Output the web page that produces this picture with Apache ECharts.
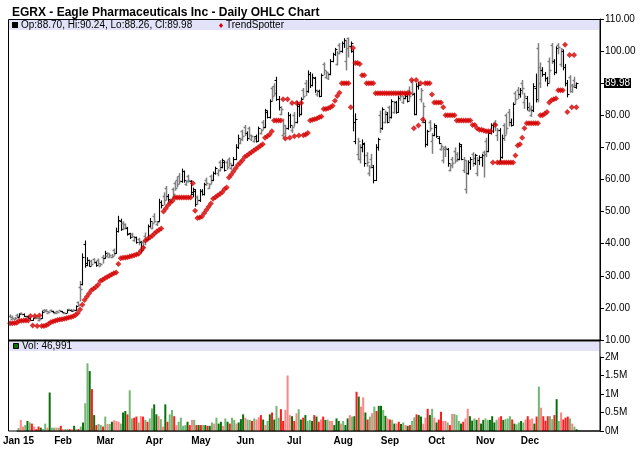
<!DOCTYPE html>
<html><head><meta charset="utf-8">
<script src="https://cdn.jsdelivr.net/npm/echarts@6/dist/echarts.min.js"></script>
<style>html,body{margin:0;padding:0;background:#fff}#c{width:640px;height:468px}</style>
</head><body><div id="c"></div>
<script>
const chartTitle = 'EGRX - Eagle Pharmaceuticals Inc - Daily OHLC Chart';
const monthLabels = ['Jan 15','Feb','Mar','Apr','May','Jun','Jul','Aug','Sep','Oct','Nov','Dec'];
const monthDays = [20,19,22,21,20,22,22,21,21,22,20,22];
const priceTicks = [10,20,30,40,50,60,70,80,90,100,110];
const volumeTicksK = [0,500,1000,1500,2000];

const openP = [17.6,16.6,16.5,17.8,17.3,18.5,18.1,17.0,17.4,16.9,16.2,17.1,17.3,16.2,16.7,19.3,19.4,18.5,19.3,19.0,
18.3,19.0,19.2,18.9,18.3,18.5,19.6,19.4,19.5,19.2,21.8,26.5,27.5,40.0,33.5,34.8,34.5,35.2,34.2,35.0,
33.2,36.0,35.5,36.3,36.0,35.8,38.0,37.0,44.0,47.0,46.5,46.0,45.0,43.2,43.0,41.0,42.0,41.5,40.5,40.5,
42.5,41.5,45.5,45.0,48.5,46.0,47.0,53.0,55.0,57.5,55.0,53.0,57.0,59.0,60.0,61.0,59.5,62.5,58.5,61.0,
59.5,55.5,56.5,54.5,53.5,56.5,55.5,60.0,57.5,61.0,60.0,62.0,62.0,65.5,64.0,65.5,65.5,66.5,63.5,64.5,
66.5,70.0,71.5,75.0,76.5,74.5,76.0,72.5,72.0,73.5,72.0,74.5,78.0,76.5,81.0,79.5,88.5,89.0,91.0,85.0,
80.5,74.0,74.5,76.0,80.0,75.5,80.0,78.0,83.0,80.5,88.0,90.0,87.5,93.0,89.5,91.5,86.5,87.5,86.0,96.0,
92.0,91.5,93.0,97.0,99.0,96.0,102.0,100.0,102.5,97.0,104.0,101.5,100.0,72.0,68.0,66.5,70.0,71.0,67.5,62.0,
66.5,64.0,60.0,70.0,80.0,76.0,78.0,80.5,82.5,79.5,81.0,84.0,81.0,87.0,84.0,85.5,86.0,88.0,90.5,86.5,
80.5,89.0,85.0,78.0,78.0,71.0,78.0,72.0,74.0,76.5,73.0,69.5,66.0,70.0,69.5,63.0,66.5,69.0,68.0,66.5,
70.5,63.0,57.0,62.0,65.5,68.0,65.0,62.0,66.0,67.0,68.5,72.0,69.0,74.5,77.0,78.0,74.0,75.5,67.0,77.0,
80.0,81.0,78.0,77.0,87.0,88.0,86.5,90.0,84.0,85.5,81.5,80.0,81.5,88.5,101.0,90.0,94.0,93.0,91.5,97.0,
102.0,97.0,93.5,102.0,96.0,100.0,95.0,90.0,92.0,87.5,91.0,88.70];
const highP = [18.0,17.6,17.2,18.2,18.4,18.6,18.3,17.6,17.6,17.0,16.9,17.2,17.5,16.9,19.2,19.6,19.6,19.0,19.5,19.1,
18.7,19.1,19.3,19.0,18.6,19.6,19.7,19.5,19.6,20.8,22.0,28.4,37.0,41.0,35.8,35.0,35.0,35.5,34.5,35.4,
34.0,36.5,37.8,37.3,37.0,36.8,38.5,45.0,48.7,47.8,47.0,46.3,45.2,43.4,43.4,42.3,42.2,41.8,40.8,41.0,
43.5,46.0,48.0,46.8,49.5,47.0,54.0,53.5,56.0,58.0,55.5,54.0,57.5,59.5,61.0,62.0,63.4,62.8,59.8,61.5,
59.8,57.5,57.0,55.0,57.0,57.0,59.0,60.6,58.8,61.5,62.5,64.0,63.2,66.0,66.5,65.8,66.0,66.9,64.8,67.0,
71.0,74.0,73.0,75.5,77.0,75.0,76.5,74.0,73.5,74.0,76.5,75.8,78.5,82.0,81.5,85.0,89.0,90.0,92.0,86.0,
82.8,79.0,77.0,81.0,80.5,77.0,81.0,84.5,83.5,85.6,88.5,91.0,94.0,93.5,93.0,92.0,88.0,88.0,93.0,96.5,
93.8,93.2,97.5,99.5,101.0,100.0,102.5,103.0,104.0,103.5,104.2,103.0,100.5,80.6,73.0,71.0,72.5,71.5,68.5,64.5,
68.0,64.5,71.0,73.0,81.5,82.5,81.5,81.0,83.0,85.0,84.5,84.5,86.0,87.5,86.0,87.0,86.5,89.0,91.0,87.0,
90.0,90.5,88.5,84.0,78.5,75.5,78.5,74.5,77.5,77.0,73.5,71.0,70.0,70.5,69.8,64.8,67.0,70.0,68.5,71.5,
71.0,67.0,66.0,66.0,67.0,68.5,68.0,67.0,67.5,68.0,69.0,73.0,75.0,77.5,77.5,78.5,76.0,76.0,74.0,77.5,
80.6,82.0,79.0,84.0,87.5,88.8,88.5,91.0,87.0,86.0,84.0,83.0,90.0,93.0,102.5,96.5,95.0,93.5,92.0,98.0,
102.5,97.5,101.5,102.5,101.0,100.5,96.0,91.0,92.5,89.8,92.0,90.24];
const lowP = [16.8,16.4,16.2,17.0,17.1,17.8,17.2,16.9,16.8,16.1,16.0,16.5,16.6,15.8,16.6,18.5,18.7,18.3,18.7,18.4,
18.2,18.5,18.7,18.5,18.2,18.4,19.2,18.9,18.9,19.1,20.5,22.0,27.0,32.5,33.0,32.8,33.0,33.8,32.8,33.2,
33.0,33.8,35.3,36.0,35.6,35.5,36.2,36.8,43.5,44.0,44.2,44.5,42.5,41.5,41.8,40.6,40.0,39.5,37.0,37.8,
39.5,41.2,45.0,44.5,46.5,45.5,46.8,51.0,52.0,53.5,53.0,52.5,54.0,56.5,57.5,58.5,59.0,59.0,58.0,59.0,
55.0,54.5,51.5,52.0,53.0,55.0,55.0,58.0,57.0,58.5,59.5,61.5,61.0,62.5,63.5,62.5,63.0,64.0,63.0,64.2,
66.0,69.5,71.0,72.0,73.5,72.0,73.0,72.0,71.5,71.5,71.8,74.0,75.5,76.0,79.0,79.0,84.5,86.0,84.5,81.5,
80.0,72.8,73.5,75.5,76.0,74.5,76.5,77.5,79.5,80.0,85.0,86.0,87.0,88.5,89.0,87.0,85.8,85.6,85.8,92.5,
91.5,91.0,92.5,96.5,98.5,95.5,99.0,99.5,101.0,94.0,98.0,99.5,75.0,71.0,66.0,65.0,68.5,64.0,64.0,61.0,
63.5,58.8,59.5,69.0,74.5,75.5,77.5,77.5,78.0,79.0,80.5,80.5,80.8,84.5,83.5,85.0,84.0,84.5,86.0,80.0,
80.0,88.0,84.0,77.5,70.0,70.5,75.0,68.0,73.5,73.0,71.0,69.0,65.0,67.0,64.0,62.5,63.5,65.0,65.5,66.0,
66.0,62.0,55.6,61.5,63.0,64.0,64.5,61.0,64.5,64.0,60.6,67.0,68.5,74.0,74.5,75.0,72.0,65.0,66.5,72.0,
74.0,76.5,76.5,76.8,83.5,85.0,85.5,86.5,82.0,81.5,81.0,79.5,81.0,84.0,84.0,88.5,92.0,90.5,89.0,90.0,
96.0,92.5,93.0,99.0,95.0,94.0,89.0,85.6,87.0,87.0,88.5,88.26];
const closeP = [17.2,17.0,16.8,17.4,18.1,18.2,17.5,17.3,17.0,16.3,16.7,16.8,16.9,16.6,18.6,18.9,19.0,18.8,19.0,18.6,
18.5,18.7,18.9,18.6,18.5,19.3,19.4,19.0,19.2,20.5,20.9,26.0,36.0,34.0,35.0,33.2,33.8,34.3,33.3,34.0,
33.7,35.5,37.2,37.0,36.6,36.2,37.0,44.0,47.5,44.5,45.0,45.2,43.0,42.0,42.5,42.0,40.4,40.8,38.0,39.0,
41.0,45.5,47.0,46.5,47.2,46.8,53.0,52.0,53.5,55.0,54.0,53.8,55.5,57.5,58.5,59.5,62.5,60.0,59.5,60.0,
56.0,57.0,52.5,53.5,56.5,55.5,58.5,59.0,58.5,60.0,62.0,63.5,63.0,64.0,66.0,63.0,64.0,65.0,64.5,66.5,
70.0,73.0,72.5,73.5,74.5,73.0,74.0,73.5,73.0,72.0,76.0,75.5,76.5,81.5,79.5,84.5,86.0,87.0,85.0,82.5,
82.0,77.0,76.0,80.0,77.0,76.5,78.0,83.5,80.5,85.0,86.0,87.5,93.0,89.5,92.0,88.0,87.5,86.0,92.5,94.0,
93.5,93.0,97.0,99.0,100.5,99.5,100.0,102.5,103.5,101.0,101.5,102.5,78.0,79.0,72.0,70.0,71.5,65.0,65.5,64.0,
64.5,60.0,70.0,72.5,76.0,82.0,81.0,78.0,79.5,84.5,84.0,81.0,85.5,86.0,85.5,86.5,84.5,86.0,87.0,80.5,
89.0,89.5,88.0,83.0,71.0,75.0,76.0,74.0,77.0,73.5,71.5,70.5,69.5,69.8,65.0,64.5,65.0,66.0,66.5,71.0,
66.5,66.0,62.0,65.5,66.5,66.8,67.5,66.0,67.0,67.5,67.8,69.0,74.5,77.0,77.2,77.4,75.5,67.0,73.0,74.0,
76.0,78.0,77.0,83.5,85.0,86.5,88.0,88.5,86.0,82.5,82.0,81.5,89.0,85.0,95.0,94.0,93.0,91.5,90.0,94.0,
97.0,93.5,101.0,101.2,100.5,95.0,90.0,86.5,89.5,89.0,89.3,89.98];
const trendSpotter = [15.2,15.2,15.3,15.4,16.0,16.0,16.1,16.1,16.1,17.5,14.5,17.5,14.4,17.6,14.4,14.4,14.6,15.0,15.5,15.8,
16.0,16.2,16.4,16.5,16.6,16.8,17.0,17.2,17.4,17.8,18.4,19.5,21.0,22.5,23.5,24.5,25.5,26.0,26.5,27.2,
28.4,28.8,29.2,29.6,30.0,30.4,30.8,31.0,33.7,35.5,35.6,35.7,35.8,36.0,36.2,36.4,36.6,36.9,37.8,38.7,
41.0,41.5,42.0,42.5,43.2,43.8,44.3,44.7,50.0,51.0,52.0,52.8,53.4,54.4,54.4,54.4,54.4,54.4,54.4,54.4,
54.4,58.8,50.3,48.0,48.2,48.5,49.5,50.5,51.5,52.5,54.0,54.5,55.0,55.5,56.0,57.0,57.5,60.6,61.5,62.5,
63.5,64.5,65.2,66.0,67.0,67.5,68.0,68.5,69.0,69.5,70.0,70.5,71.0,73.0,73.5,74.0,75.0,78.4,78.4,78.4,
78.4,85.0,72.8,85.0,73.0,83.8,73.5,83.8,73.7,83.8,73.8,74.0,74.5,78.4,78.6,78.8,79.0,79.4,79.6,82.0,
82.0,82.2,82.5,83.0,84.5,86.0,87.0,90.0,90.0,90.0,90.0,82.5,101.0,96.3,96.3,96.0,92.5,92.5,90.0,90.0,
90.0,90.0,86.9,86.9,86.9,86.9,86.9,86.9,86.9,86.9,86.9,86.9,86.9,86.9,86.9,86.9,86.9,86.9,91.0,76.0,
91.0,76.8,90.0,78.7,90.0,90.0,90.0,86.5,84.0,84.0,84.0,84.0,82.5,80.0,80.0,80.0,80.0,80.0,78.4,78.4,
78.4,78.4,78.4,78.4,78.4,77.0,77.0,76.0,75.5,75.5,75.3,75.0,75.0,75.0,65.3,77.0,65.3,65.3,65.3,65.3,
65.3,65.3,65.3,65.3,67.5,70.6,71.0,73.0,76.0,77.5,77.5,77.5,77.5,77.5,77.5,80.0,80.0,80.5,81.0,84.0,
84.7,85.0,85.2,87.8,87.8,87.8,102.0,81.0,98.8,82.5,98.8,82.5];
const volumeK = [80,
300,120,160,270,230,200,120,50,120,90,
50,200,90,1040,90,90,90,90,140,50,
50,50,50,50,140,50,50,120,230,750,
1830,1620,1130,430,160,190,160,120,390,190,
190,250,290,270,250,200,500,540,450,1100,
340,360,390,230,400,390,300,250,340,610,
720,450,400,320,120,720,250,450,570,400,
160,250,360,140,160,250,160,300,300,160,
160,160,160,160,140,140,230,200,360,200,
250,140,340,250,200,360,300,200,230,320,
450,360,310,300,270,340,310,370,430,310,
160,270,450,500,310,680,360,590,270,570,
1500,430,400,270,480,590,310,360,430,270,
300,270,430,390,250,310,390,300,310,270,
270,160,340,270,200,270,160,340,430,390,
400,1060,930,660,910,500,310,390,480,660,
540,680,680,570,410,340,310,300,200,200,
250,190,230,160,140,160,270,370,450,430,
390,200,360,600,430,600,360,230,310,520,
270,270,230,160,460,460,430,270,200,250,
340,600,400,280,340,300,360,200,300,340,
300,300,400,230,300,370,400,300,320,340,
400,310,200,180,230,270,230,310,400,310,
340,200,390,1200,630,400,280,400,400,320,
430,860,270,500,310,360,390,340,200,120,
46.991];

const PAD_DAYS = 10;
const categories = [];
const monthStart = {};
monthLabels.forEach((m, k) => {
  for (let d = 0; d < monthDays[k]; d++) {
    if (d === 0) monthStart[categories.length] = m;
    categories.push(m + ' #' + (d + 1));
  }
});
for (let p = 0; p < PAD_DAYS; p++) categories.push('');

const last = closeP.length - 1;
function isUp(i) { return i === 0 || closeP[i] > closeP[i - 1]; }
function isSolid(i) { return isUp(i) ? closeP[i] >= openP[i] : closeP[i] < openP[i]; }
function volColor(i) {
  return isUp(i) ? (isSolid(i) ? '#0b700b' : '#74b674') : (isSolid(i) ? '#ff1c1c' : '#ff8585');
}

const ohlcData = closeP.map((c, i) => [i, openP[i], highP[i], lowP[i], c, isSolid(i) ? 1 : 0]);

function renderOHLC(params, api) {
  const i = api.value(0);
  const o = api.coord([i, api.value(1)]);
  const h = api.coord([i, api.value(2)]);
  const l = api.coord([i, api.value(3)]);
  const c = api.coord([i, api.value(4)]);
  const solid = api.value(5) === 1;
  const x = Math.round(h[0]) + 0.5;
  const style = { stroke: solid ? '#000' : '#808080', lineWidth: solid ? 1.1 : 1.5 };
  return {
    type: 'group',
    children: [
      { type: 'line', shape: { x1: x, y1: h[1], x2: x, y2: l[1] }, style },
      { type: 'line', shape: { x1: x - 2, y1: Math.round(o[1]) + 0.5, x2: x, y2: Math.round(o[1]) + 0.5 }, style },
      { type: 'line', shape: { x1: x, y1: Math.round(c[1]) + 0.5, x2: x + 2, y2: Math.round(c[1]) + 0.5 }, style }
    ]
  };
}

const FONT = 'Liberation Sans';
const BAND = '#e2e2f8';
const legendText = 'Op:' + openP[last].toFixed(2) + ', Hi:' + highP[last].toFixed(2) +
  ', Lo:' + lowP[last].toFixed(2) + ', Cl:' + closeP[last].toFixed(2);
const volText = 'Vol: ' + Math.round(volumeK[last] * 1000).toLocaleString('en-US');

const chart = echarts.init(document.getElementById('c'), null, { renderer: 'canvas' });
const option = {
  animation: false,
  backgroundColor: '#fff',
  title: {
    text: chartTitle, left: 7, top: 2,
    textStyle: { fontFamily: FONT, fontSize: 12, fontWeight: 'bold', color: '#000' }
  },
  grid: [
    { left: 9, right: 40, top: 19, height: 321 },
    { left: 9, right: 40, top: 357, height: 74 }
  ],
  xAxis: [
    { gridIndex: 0, type: 'category', data: categories, boundaryGap: true, show: false },
    {
      gridIndex: 1, type: 'category', data: categories, boundaryGap: true,
      axisLine: { lineStyle: { color: '#808080', width: 2 } },
      axisTick: { interval: (i) => i in monthStart, alignWithLabel: true, length: 3, lineStyle: { color: '#222' } },
      axisLabel: {
        interval: (i) => i in monthStart,
        formatter: (v, i) => monthStart[i] || '',
        fontFamily: FONT, fontSize: 10, fontWeight: 'bold', color: '#000', margin: 5
      },
      splitLine: { show: false }
    }
  ],
  yAxis: [
    {
      gridIndex: 0, type: 'value', position: 'right',
      min: priceTicks[0], max: priceTicks[priceTicks.length - 1], interval: priceTicks[1] - priceTicks[0],
      axisLine: { show: true, lineStyle: { color: '#000' } },
      axisTick: { show: true, length: 4, lineStyle: { color: '#000' } },
      splitLine: { show: false },
      axisLabel: { formatter: (v) => v.toFixed(2), fontFamily: FONT, fontSize: 10, color: '#000', margin: 5 }
    },
    {
      gridIndex: 1, type: 'value', position: 'right',
      min: volumeTicksK[0], max: volumeTicksK[volumeTicksK.length - 1], interval: volumeTicksK[1] - volumeTicksK[0],
      axisLine: { show: true, lineStyle: { color: '#000' } },
      axisTick: { show: true, length: 4, lineStyle: { color: '#000' } },
      splitLine: { show: false },
      axisLabel: { formatter: (v) => (v / 1000) + 'M', fontFamily: FONT, fontSize: 10, color: '#000', margin: 5 }
    }
  ],
  series: [
    {
      name: 'OHLC', type: 'custom', xAxisIndex: 0, yAxisIndex: 0,
      renderItem: renderOHLC, data: ohlcData, encode: { x: 0, y: [1, 2, 3, 4] }, z: 3
    },
    {
      name: 'TrendSpotter', type: 'scatter', xAxisIndex: 0, yAxisIndex: 0,
      symbol: 'diamond', symbolSize: 6,
      itemStyle: { color: '#d40000' },
      data: trendSpotter.map((v, i) => [i, v]), z: 4
    },
    {
      name: 'Volume', type: 'bar', xAxisIndex: 1, yAxisIndex: 1, barWidth: 2,
      data: volumeK.map((v, i) => ({ value: v, itemStyle: { color: volColor(i) } }))
    }
  ],
  graphic: [
    { id: 'mainBand', type: 'rect', z: -1, shape: { x: 9, y: 20, width: 590, height: 10 }, style: { fill: BAND } },
    { id: 'volBand', type: 'rect', z: -1, shape: { x: 9, y: 342, width: 590, height: 9 }, style: { fill: BAND } },
    { id: 'mainBorder', type: 'rect', z: 50, shape: { x: 8.5, y: 19.5, width: 591.5, height: 321 }, style: { fill: null, stroke: '#000', lineWidth: 1 } },
    { id: 'volBorder', type: 'rect', z: 50, shape: { x: 8.5, y: 340.5, width: 591.5, height: 90.5 }, style: { fill: null, stroke: '#000', lineWidth: 1 } },
    { id: 'sep', type: 'line', z: 50, shape: { x1: 8, y1: 340.5, x2: 600, y2: 340.5 }, style: { stroke: '#000', lineWidth: 2 } },
    { id: 'lgSq', type: 'rect', z: 60, shape: { x: 12, y: 22, width: 6, height: 6 }, style: { fill: '#000' } },
    { id: 'lgTxt', type: 'text', z: 60, x: 21, y: 25.5, style: { text: legendText, fontFamily: FONT, fontSize: 10, fill: '#000', verticalAlign: 'middle' } },
    { id: 'lgDm', type: 'polygon', z: 60, shape: { points: [[221, 23], [223, 25.5], [221, 28], [219, 25.5]] }, style: { fill: '#d40000' } },
    { id: 'lgTs', type: 'text', z: 60, x: 226, y: 25.5, style: { text: 'TrendSpotter', fontFamily: FONT, fontSize: 10, fill: '#000', verticalAlign: 'middle' } },
    { id: 'vSq', type: 'rect', z: 60, shape: { x: 13.5, y: 343.5, width: 5, height: 5 }, style: { fill: '#0b700b', stroke: '#000', lineWidth: 1 } },
    { id: 'vTxt', type: 'text', z: 60, x: 22, y: 346.5, style: { text: volText, fontFamily: FONT, fontSize: 10, fill: '#000', verticalAlign: 'middle' } }
  ]
};
chart.setOption(option);

const py = chart.convertToPixel({ yAxisIndex: 0 }, closeP[last]);
chart.setOption({
  graphic: [
    {
      id: 'lastBox', type: 'text', z: 100, x: 604, y: Math.round(py),
      style: {
        text: closeP[last].toFixed(2), fontFamily: FONT, fontSize: 10, fill: '#fff',
        backgroundColor: '#000', padding: [0, 1, 0, 1], verticalAlign: 'middle', align: 'left'
      }
    }
  ]
});
</script>
</body></html>
